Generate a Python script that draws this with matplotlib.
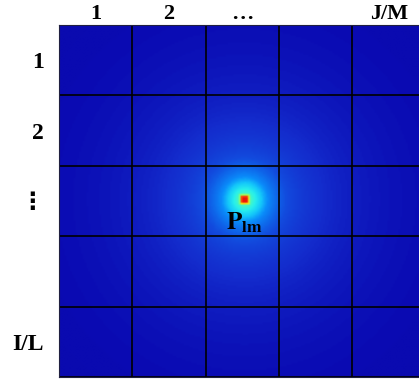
import numpy as np
import matplotlib
matplotlib.use("Agg")
import matplotlib.pyplot as plt
from matplotlib.colors import LinearSegmentedColormap

# ── Datos ────────────────────────────────────────────────────────────────────
col_labels = ["1", "2", "\u2026", "", "J/M"]
row_labels = ["1", "2", "\u22ee", "", "I/L"]
n_rows, n_cols = 5, 5
peak_col, peak_row = 2.03, 2.48      # posición del pico (en unidades de celda)
peak_label = r"$\mathbf{P}_{\mathbf{lm}}$"

# niveles del campo y colores (tipo "jet")
levels = [0.0, 0.09, 0.145, 0.21, 0.29, 0.33, 0.38, 0.45, 0.55, 0.68, 0.78, 0.87, 1.0]
level_rgb = [(10, 10, 150), (10, 10, 178), (20, 45, 205), (18, 75, 222),
             (10, 140, 250), (20, 200, 250), (40, 240, 235), (90, 250, 170),
             (170, 250, 80), (235, 235, 30), (255, 130, 0), (245, 30, 10), (200, 0, 0)]

plt.rcParams["mathtext.fontset"] = "stix"
serif = ["Liberation Serif", "DejaVu Sans"]

cmap = LinearSegmentedColormap.from_list(
    "campo", [(v, tuple(c / 255 for c in rgb)) for v, rgb in zip(levels, level_rgb)])

# ── Campo ────────────────────────────────────────────────────────────────────
res = 40  # sub-celdas por celda
xs = (np.arange(n_cols * res) + 0.5) / res
ys = (np.arange(n_rows * res) + 0.5) / res
X, Y = np.meshgrid(xs, ys)
dx = np.abs(X - peak_col - 0.5) * 73.3
dy = np.abs(Y - peak_row) * 70.5
r = np.hypot(dx, dy)                      # en px
core = np.maximum(dx, dy)                 # núcleo cuadrado
field = (0.07 + 0.13 * np.exp(-r / 110.0) + 0.30 * np.exp(-r / 24.0)
         + 0.42 * np.exp(-(core / 4.5) ** 6))

# ── Figura ───────────────────────────────────────────────────────────────────
fig = plt.figure(figsize=(4.19, 3.83), dpi=100)
ax = fig.add_axes([59 / 419, 6 / 383, 366.5 / 419, 352 / 383])
ax.imshow(field, cmap=cmap, vmin=0, vmax=1, extent=(0, n_cols, n_rows, 0),
          interpolation="bilinear", aspect="auto")

for k in range(n_cols + 1):
    ax.axvline(k, color="black", lw=1.2)
for k in range(n_rows + 1):
    ax.axhline(k, color="black", lw=1.2)

ax.set_xlim(0, n_cols)
ax.set_ylim(n_rows, 0)
for s in ax.spines.values():
    s.set_color("#202040")

ax.xaxis.tick_top()
ax.set_xticks(np.arange(n_cols) + 0.5)
ax.set_xticklabels(col_labels, family=serif, fontweight="bold", fontsize=16)
ax.set_yticks(np.arange(n_rows) + 0.5)
ax.set_yticklabels(row_labels, family=serif, fontweight="bold", fontsize=17)
ax.tick_params(axis="x", length=0, pad=1)
ax.tick_params(axis="y", length=0, pad=11)

ax.text(peak_col + 0.5, peak_row + 0.33, peak_label, ha="center", va="center",
        fontsize=18, color="black")

fig.savefig("out.png", dpi=100)
